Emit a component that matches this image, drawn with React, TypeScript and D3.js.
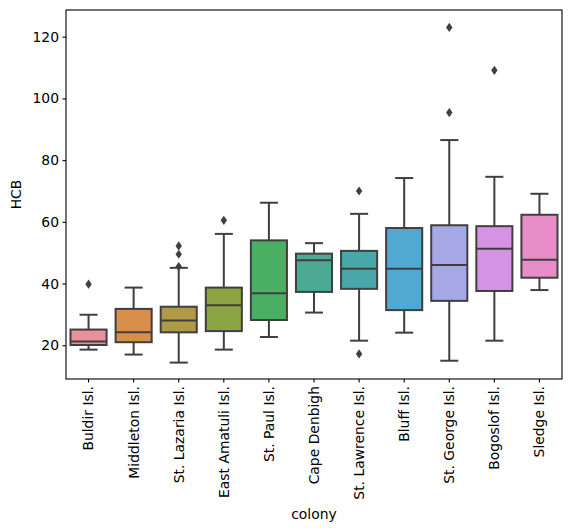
import React from 'react';
import * as d3 from 'd3';

const colonies = [
  'Buldir Isl.',
  'Middleton Isl.',
  'St. Lazaria Isl.',
  'East Amatuli Isl.',
  'St. Paul Isl.',
  'Cape Denbigh',
  'St. Lawrence Isl.',
  'Bluff Isl.',
  'St. George Isl.',
  'Bogoslof Isl.',
  'Sledge Isl.',
];
const whiskerLow = [18.6, 17.0, 14.4, 18.6, 22.7, 30.6, 21.5, 24.1, 15.0, 21.5, 37.9];
const q1 = [20.1, 21.0, 24.2, 24.6, 28.2, 37.3, 38.3, 31.4, 34.4, 37.6, 41.9];
const medians = [21.2, 24.2, 28.0, 33.0, 36.9, 47.6, 44.8, 44.8, 46.0, 51.3, 47.7];
const q3 = [25.1, 31.8, 32.5, 38.7, 54.0, 49.7, 50.6, 58.0, 58.9, 58.6, 62.3];
const whiskerHigh = [29.9, 38.7, 45.1, 56.1, 66.2, 53.1, 62.6, 74.2, 86.5, 74.6, 69.1];
const outliers = [[39.8], [], [52.2, 49.5, 45.5], [60.5], [], [], [70.0, 17.2], [], [123.0, 95.4], [109.1], []];
const colors = [
  '#e8919d', '#d98f4c', '#b09a46', '#8da443', '#4aaf62', '#4ca994',
  '#4aa7a9', '#51a9d2', '#a6a9e6', '#d693e6', '#e78dc7',
];
const yTicks = [20, 40, 60, 80, 100, 120];

const W = 571;
const H = 532;
const left = 66;
const right = 562;
const top = 10;
const bottom = 379;
const font = 'DejaVu Sans, sans-serif';
const lineColor = '#3f3f3f';

function drawChart(el: SVGSVGElement) {
  const svg = d3.select(el);
  svg.selectAll('*').remove();

  const x = d3.scaleBand<string>().domain(colonies).range([left, right]).paddingInner(0.2).paddingOuter(0.1);
  const y = d3.scaleLinear([9.08, 128.65], [bottom, top]);
  const bw = x.bandwidth();
  const cap = bw / 2;

  const rows = colonies.map((c, i) => ({
    colony: c,
    lo: whiskerLow[i],
    q1: q1[i],
    med: medians[i],
    q3: q3[i],
    hi: whiskerHigh[i],
    fliers: outliers[i],
    color: colors[i],
  }));

  const g = svg
    .append('g')
    .selectAll('g')
    .data(rows)
    .enter()
    .append('g');

  // whiskers
  g.append('line')
    .attr('x1', (d) => x(d.colony) + bw / 2)
    .attr('x2', (d) => x(d.colony) + bw / 2)
    .attr('y1', (d) => y(d.q3))
    .attr('y2', (d) => y(d.hi))
    .attr('stroke', lineColor)
    .attr('stroke-width', 2);
  g.append('line')
    .attr('x1', (d) => x(d.colony) + bw / 2)
    .attr('x2', (d) => x(d.colony) + bw / 2)
    .attr('y1', (d) => y(d.q1))
    .attr('y2', (d) => y(d.lo))
    .attr('stroke', lineColor)
    .attr('stroke-width', 2);
  // caps
  for (const key of ['lo', 'hi'] as const) {
    g.append('line')
      .attr('x1', (d) => x(d.colony) + bw / 2 - cap / 2)
      .attr('x2', (d) => x(d.colony) + bw / 2 + cap / 2)
      .attr('y1', (d) => y(d[key]))
      .attr('y2', (d) => y(d[key]))
      .attr('stroke', lineColor)
      .attr('stroke-width', 2);
  }

  g.append('rect')
    .attr('x', (d) => x(d.colony))
    .attr('width', bw)
    .attr('y', (d) => y(d.q3))
    .attr('height', (d) => y(d.q1) - y(d.q3))
    .attr('fill', (d) => d.color)
    .attr('stroke', lineColor)
    .attr('stroke-width', 2);

  g.append('line')
    .attr('x1', (d) => x(d.colony))
    .attr('x2', (d) => x(d.colony) + bw)
    .attr('y1', (d) => y(d.med))
    .attr('y2', (d) => y(d.med))
    .attr('stroke', lineColor)
    .attr('stroke-width', 2);

  // fliers as thin diamonds
  g.selectAll('path.flier')
    .data((d) => d.fliers.map((v) => ({ v, cx: x(d.colony) + bw / 2 })))
    .enter()
    .append('path')
    .attr('class', 'flier')
    .attr('d', (p) => {
      const cy = y(p.v);
      return `M${p.cx},${cy - 4.6}L${p.cx + 3.2},${cy}L${p.cx},${cy + 4.6}L${p.cx - 3.2},${cy}Z`;
    })
    .attr('fill', lineColor);

  // y axis
  const ya = svg
    .append('g')
    .attr('transform', `translate(${left},0)`)
    .call(d3.axisLeft(y).tickValues(yTicks).tickSize(3.5).tickPadding(3.5));
  ya.select('.domain').remove();
  ya.selectAll('line').attr('stroke', '#000').attr('stroke-width', 1.1);
  ya.selectAll('text').attr('fill', '#000').style('font-family', font).style('font-size', '13.9px');

  // x axis
  const xa = svg
    .append('g')
    .attr('transform', `translate(0,${bottom})`)
    .call(d3.axisBottom(x).tickSize(3.5).tickPadding(3.5));
  xa.select('.domain').remove();
  xa.selectAll('line').attr('stroke', '#000').attr('stroke-width', 1.1);
  xa.selectAll('text')
    .attr('fill', '#000')
    .style('font-family', font)
    .style('font-size', '13.9px')
    .attr('transform', 'rotate(-90)')
    .attr('text-anchor', 'end')
    .attr('x', -7)
    .attr('y', 0)
    .attr('dy', '0.35em');

  svg
    .append('rect')
    .attr('x', left)
    .attr('y', top)
    .attr('width', right - left)
    .attr('height', bottom - top)
    .attr('fill', 'none')
    .attr('stroke', '#000')
    .attr('stroke-width', 1.1);

  svg
    .append('text')
    .attr('x', (left + right) / 2)
    .attr('y', 519)
    .attr('text-anchor', 'middle')
    .style('font-family', font)
    .style('font-size', '13.9px')
    .text('colony');

  svg
    .append('text')
    .attr('transform', `translate(21,${(top + bottom) / 2}) rotate(-90)`)
    .attr('text-anchor', 'middle')
    .style('font-family', font)
    .style('font-size', '13.9px')
    .text('HCB');
}

export default function App() {
  const ref = React.useRef<SVGSVGElement>(null);
  React.useEffect(() => {
    if (ref.current) drawChart(ref.current);
  }, []);
  return (
    <svg
      ref={ref}
      width={W}
      height={H}
      style={{ position: 'absolute', left: 0, top: 0, background: '#fff' }}
    />
  );
}
